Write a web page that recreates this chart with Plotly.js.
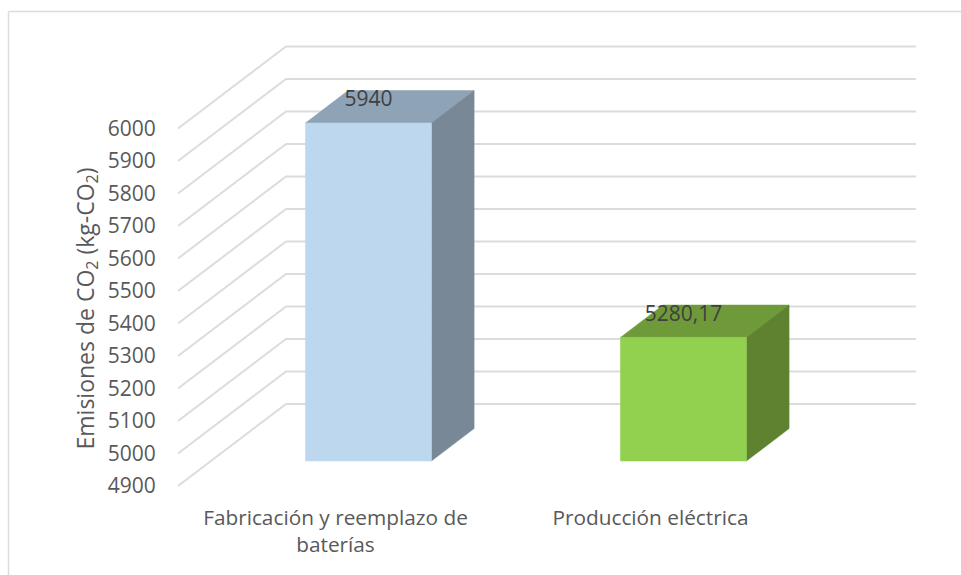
<!DOCTYPE html>
<html>
<head>
<meta charset="utf-8">
<script src="https://cdn.plot.ly/plotly-3.0.1.min.js"></script>
<style>html,body{margin:0;padding:0;background:#fff}#chart{width:961px;height:575px}</style>
</head>
<body>
<div id="chart"></div>
<script>
// Emissions by source
const categories = ['Fabricación y reemplazo de<br>baterías', 'Producción eléctrica'];
const values = [5940, 5280.17];
const valueLabels = ['5940', '5280,17'];
const yTicks = [4900, 5000, 5100, 5200, 5300, 5400, 5500, 5600, 5700, 5800, 5900, 6000];

const frontColors = ['#BDD7EE', '#92D050'];
const topColors = ['#8FA3B6', '#6F9A3A'];
const sideColors = ['#788896', '#5E8230'];
const gridColor = '#DCDCDC';

// Oblique projection: a point at depth d (0 = front of the box, 1 = back wall)
// moves right by d*SKEW_X categories and up by d*SKEW_Y value units.
const SKEW_X = 0.343;
const SKEW_Y = 252.3;
const BAR_WIDTH = 0.4;
const BAR_NEAR = 0.305;
const BAR_FAR = 0.70;
const BASE = 4900;
const X_MIN = -0.5;
const X_MAX = 1.5 + SKEW_X;

const px = (x, v, d) => [x + d * SKEW_X, v + d * SKEW_Y];

function poly(points, color) {
  const pts = points.concat([points[0]]);
  return {
    type: 'scatter', mode: 'lines', fill: 'toself', fillcolor: color,
    x: pts.map(p => p[0]), y: pts.map(p => p[1]),
    line: {color: color, width: 0.5}, hoverinfo: 'skip', showlegend: false
  };
}

// Side wall and back wall gridlines
const gx = [], gy = [];
yTicks.forEach(v => {
  const a = px(X_MIN, v, 0), b = px(X_MIN, v, 1), c = px(X_MAX - SKEW_X, v, 1);
  gx.push(a[0], b[0], c[0], null);
  gy.push(a[1], b[1], c[1], null);
});
const traces = [{
  type: 'scatter', mode: 'lines', x: gx, y: gy,
  line: {color: gridColor, width: 2}, hoverinfo: 'skip', showlegend: false
}];

// Each bar is three faces of a box
values.forEach((v, i) => {
  const l = i - BAR_WIDTH / 2, r = i + BAR_WIDTH / 2;
  traces.push(poly([px(l, v, BAR_NEAR), px(r, v, BAR_NEAR), px(r, v, BAR_FAR), px(l, v, BAR_FAR)], topColors[i]));
  traces.push(poly([px(r, BASE, BAR_NEAR), px(r, BASE, BAR_FAR), px(r, v, BAR_FAR), px(r, v, BAR_NEAR)], sideColors[i]));
  traces.push(poly([px(l, BASE, BAR_NEAR), px(r, BASE, BAR_NEAR), px(r, v, BAR_NEAR), px(l, v, BAR_NEAR)], frontColors[i]));
});

// Value labels sit on the top face
traces.push({
  type: 'scatter', mode: 'text',
  x: values.map((v, i) => px(i, v, BAR_NEAR)[0]),
  y: values.map(v => v + 68 + BAR_NEAR * SKEW_Y),
  text: valueLabels, textposition: 'middle center',
  textfont: {family: 'Open Sans, sans-serif', size: 21, color: '#404040'},
  hoverinfo: 'skip', showlegend: false, cliponaxis: false
});

const W = 961, H = 575, ML = 178, MR = 45, MT = 30, MB = 85;
const PW = W - ML - MR, PH = H - MT - MB;
const paperX = p => (p - ML) / PW;
const paperY = p => (H - MB - p) / PH;

const layout = {
  width: W, height: H, showlegend: false,
  paper_bgcolor: '#fff', plot_bgcolor: 'rgba(0,0,0,0)',
  margin: {l: ML, r: MR, t: MT, b: MB, pad: 0},
  font: {family: 'Open Sans, sans-serif', color: '#595959'},
  xaxis: {
    range: [X_MIN, X_MAX], tickmode: 'array', tickvals: categories.map((c, i) => i), ticktext: categories,
    showgrid: false, zeroline: false, showline: false,
    ticks: 'outside', ticklen: 9, tickcolor: 'rgba(0,0,0,0)',
    tickangle: 0, tickfont: {size: 20.8, color: '#595959'}
  },
  yaxis: {
    range: [4887.7, 6303], tickmode: 'array', tickvals: yTicks, ticktext: yTicks.map(String),
    showgrid: false, zeroline: false, showline: false,
    ticks: 'outside', ticklen: 17, tickcolor: 'rgba(0,0,0,0)',
    tickfont: {size: 21, color: '#595959'}
  },
  annotations: [{
    xref: 'paper', yref: 'paper', x: paperX(85.5), y: paperY(309),
    text: 'Emisiones de CO<sub>2</sub> (kg-CO<sub>2</sub>)', textangle: -90, showarrow: false,
    font: {size: 23, color: '#595959'}, xanchor: 'center', yanchor: 'middle'
  }],
  shapes: [
    {type: 'line', xref: 'paper', yref: 'paper', x0: paperX(8.5), x1: paperX(961), y0: paperY(11.5), y1: paperY(11.5), line: {color: gridColor, width: 1.5}},
    {type: 'line', xref: 'paper', yref: 'paper', x0: paperX(8.5), x1: paperX(8.5), y0: paperY(11.5), y1: paperY(575), line: {color: gridColor, width: 1.5}}
  ]
};

Plotly.newPlot('chart', traces, layout, {displayModeBar: false, staticPlot: true});
</script>
</body>
</html>
